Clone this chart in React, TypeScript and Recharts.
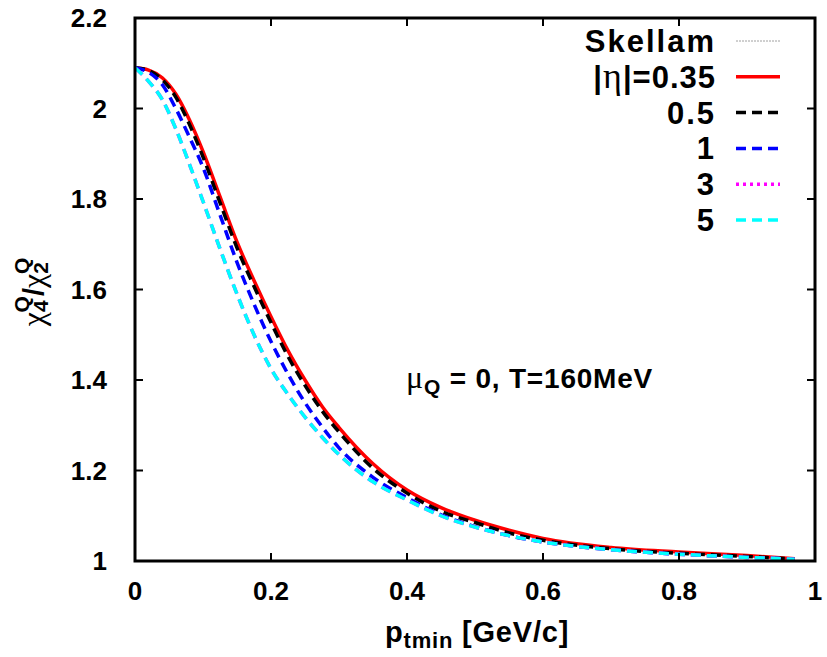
import { LineChart, Line, XAxis, YAxis } from "recharts"

const pt = [0, 0.02, 0.04, 0.06, 0.08, 0.1, 0.125, 0.15, 0.175, 0.2, 0.225, 0.25, 0.275, 0.3, 0.35, 0.4, 0.45, 0.5, 0.55, 0.6, 0.7, 0.8, 0.9, 0.97]
const skellam = [1, 1, 1, 1, 1, 1, 1, 1, 1, 1, 1, 1, 1, 1, 1, 1, 1, 1, 1, 1, 1, 1, 1, 1]
const eta035 = [2.09, 2.085, 2.068, 2.032, 1.975, 1.905, 1.805, 1.705, 1.62, 1.54, 1.465, 1.4, 1.342, 1.295, 1.215, 1.157, 1.118, 1.09, 1.068, 1.05, 1.03, 1.02, 1.012, 1.005]
const eta05 = [2.09, 2.084, 2.064, 2.025, 1.965, 1.893, 1.792, 1.692, 1.607, 1.527, 1.452, 1.388, 1.332, 1.285, 1.205, 1.15, 1.11, 1.085, 1.062, 1.046, 1.027, 1.017, 1.01, 1.004]
const eta1 = [2.09, 2.08, 2.053, 2.0, 1.937, 1.87, 1.765, 1.66, 1.568, 1.485, 1.413, 1.35, 1.297, 1.25, 1.185, 1.14, 1.102, 1.076, 1.056, 1.042, 1.025, 1.015, 1.008, 1.004]
const eta3 = [2.09, 2.06, 2.02, 1.955, 1.877, 1.795, 1.69, 1.59, 1.5, 1.425, 1.368, 1.318, 1.274, 1.235, 1.175, 1.135, 1.1, 1.075, 1.056, 1.042, 1.025, 1.015, 1.008, 1.004]
const eta5 = [2.09, 2.06, 2.02, 1.955, 1.877, 1.795, 1.69, 1.59, 1.5, 1.425, 1.368, 1.318, 1.274, 1.235, 1.175, 1.135, 1.1, 1.075, 1.056, 1.042, 1.025, 1.015, 1.008, 1.004]

const xTicks = [0, 0.2, 0.4, 0.6, 0.8, 1]
const yTicks = [1, 1.2, 1.4, 1.6, 1.8, 2, 2.2]

// plotDash: the |eta|=3 curve sits exactly under the |eta|=5 one, so it shares its dash phase there
const series = [
  { key: "skellam", label: "Skellam", color: "#a0a0a0", dash: "2 1", plotDash: "2 1", width: 1 },
  { key: "eta035", label: "|η|=0.35", color: "#ff0000", dash: undefined, plotDash: undefined, width: 3.5 },
  { key: "eta05", label: "0.5", color: "#000000", dash: "10 6", plotDash: "10 6", width: 3.5 },
  { key: "eta1", label: "1", color: "#0000ff", dash: "10 6", plotDash: "10 6", width: 3.5 },
  { key: "eta3", label: "3", color: "#ff00ff", dash: "3 4", plotDash: "10 6", width: 3.5 },
  { key: "eta5", label: "5", color: "#00ffff", dash: "10 6", plotDash: "10 6", width: 3.5 },
]

const data = pt.map((p, i) => ({
  pt: p,
  skellam: skellam[i],
  eta035: eta035[i],
  eta05: eta05[i],
  eta1: eta1[i],
  eta3: eta3[i],
  eta5: eta5[i],
}))

const W = 827
const H = 657
// plot frame (gnuplot border)
const L = 135
const T = 18
const R = 815
const B = 561

const FONT = '"Liberation Sans", Arial, sans-serif'
const GREEK = '"Liberation Serif", "DejaVu Serif", serif'

function XTick({ x, payload }: any) {
  return (
    <g>
      <line x1={x} x2={x} y1={B} y2={B - 8} stroke="#000" strokeWidth={2} />
      <line x1={x} x2={x} y1={T} y2={T + 8} stroke="#000" strokeWidth={2} />
      <text x={x} y={B + 39} textAnchor="middle" fontFamily={FONT} fontWeight="bold" fontSize={26} fill="#000">
        {payload.value}
      </text>
    </g>
  )
}

function YTick({ y, payload }: any) {
  return (
    <g>
      <line x1={L} x2={L + 8} y1={y} y2={y} stroke="#000" strokeWidth={2} />
      <line x1={R} x2={R - 8} y1={y} y2={y} stroke="#000" strokeWidth={2} />
      <text x={107} y={y + 9} textAnchor="end" fontFamily={FONT} fontWeight="bold" fontSize={26} fill="#000">
        {payload.value}
      </text>
    </g>
  )
}

function LegendLabel({ label, y }: { label: string; y: number }) {
  if (label.startsWith("|η|")) {
    return (
      <text x={716} y={y} textAnchor="end" fontFamily={FONT} fontWeight="bold" fontSize={31} letterSpacing={1} fill="#000">
        |<tspan fontFamily={GREEK} fontWeight="normal" fontSize={36}>η</tspan>|=0.35
      </text>
    )
  }
  return (
    <text x={716} y={y} textAnchor="end" fontFamily={FONT} fontWeight="bold" fontSize={31} letterSpacing={2} fill="#000">
      {label}
    </text>
  )
}

export default function App() {
  return (
    <div style={{ position: "absolute", left: 0, top: 0, width: W, height: H, background: "#fff" }}>
      <LineChart width={W} height={H} data={data} margin={{ top: T, right: W - R, bottom: 56, left: 75 }}>
        <XAxis
          dataKey="pt"
          type="number"
          domain={[0, 1]}
          ticks={xTicks}
          height={40}
          axisLine={false}
          tickLine={false}
          tick={<XTick />}
          interval={0}
        />
        <YAxis
          type="number"
          domain={[1, 2.2]}
          ticks={yTicks}
          width={60}
          axisLine={false}
          tickLine={false}
          tick={<YTick />}
          interval={0}
        />
        {series.map((s) => (
          <Line
            key={s.key}
            dataKey={s.key}
            type="monotone"
            stroke={s.color}
            strokeWidth={s.width}
            strokeDasharray={s.plotDash}
            dot={false}
            activeDot={false}
            isAnimationActive={false}
          />
        ))}
      </LineChart>
      <svg width={W} height={H} style={{ position: "absolute", left: 0, top: 0, pointerEvents: "none" }}>
        <rect x={L} y={T} width={R - L} height={B - T} fill="none" stroke="#000" strokeWidth={3} />
        {series.map((s, i) => {
          const y = 41 + i * 35.8
          return (
            <g key={s.key}>
              <LegendLabel label={s.label} y={y + 11} />
              <line x1={736} x2={780} y1={y} y2={y} stroke={s.color} strokeWidth={s.width} strokeDasharray={s.dash} />
            </g>
          )
        })}
        <text x={406} y={388} fontFamily={FONT} fontWeight="bold" fontSize={28} letterSpacing={0.8} fill="#000">
          <tspan fontFamily={GREEK} fontWeight="normal" fontSize={32}>μ</tspan>
          <tspan fontSize={21} dy={6}>Q</tspan>
          <tspan dy={-6}> = 0, T=160MeV</tspan>
        </text>
        <text x={385} y={642} fontFamily={FONT} fontWeight="bold" fontSize={29} letterSpacing={0.8} fill="#000">
          p<tspan fontSize={22} dy={6}>tmin</tspan>
          <tspan dy={-6}> [GeV/c]</tspan>
        </text>
        <g transform="translate(44,292) rotate(-90)">
          <text x={0} y={0} textAnchor="middle" fontFamily={FONT} fontWeight="bold" fontSize={29} fill="#000">
            <tspan fontFamily={GREEK} fontWeight="normal" fontSize={32}>χ</tspan>
            <tspan fontSize={21} dy={4}>4</tspan>
            <tspan fontSize={21} dx={-12} dy={-19}>Q</tspan>
            <tspan dy={15}>/</tspan>
            <tspan fontFamily={GREEK} fontWeight="normal" fontSize={32}>χ</tspan>
            <tspan fontSize={21} dy={4}>2</tspan>
            <tspan fontSize={21} dx={-12} dy={-19}>Q</tspan>
          </text>
        </g>
      </svg>
    </div>
  )
}
